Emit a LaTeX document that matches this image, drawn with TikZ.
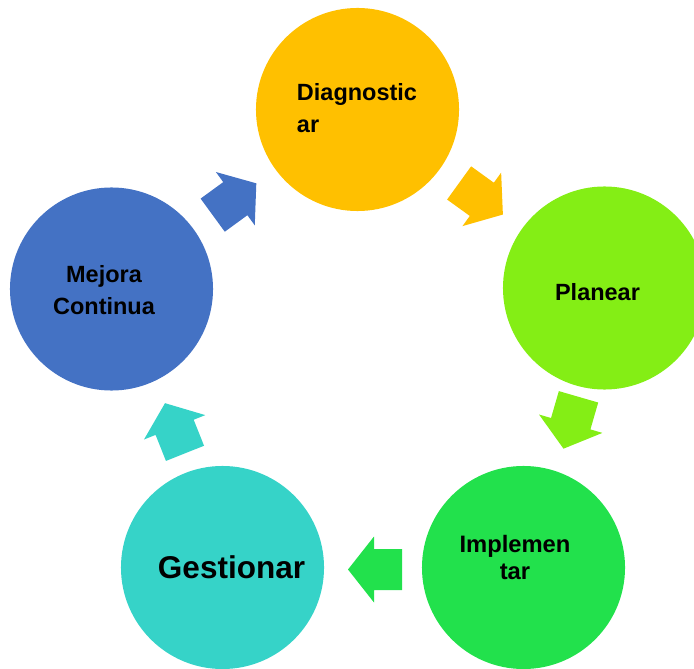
\documentclass[tikz,border=0pt]{standalone}
\usepackage{fontspec}
\setmainfont{Liberation Sans}
\usetikzlibrary{calc}

\definecolor{diagcol}{RGB}{255,192,0}
\definecolor{plancol}{RGB}{132,238,21}
\definecolor{implcol}{RGB}{34,225,76}
\definecolor{gestcol}{RGB}{54,211,200}
\definecolor{mejcol}{RGB}{68,114,196}

\begin{document}
\begin{tikzpicture}[
    x=0.025cm, y=-0.025cm,
    stage/.style={circle, draw=none, inner sep=0pt, minimum size=5.075cm},
    stagetext/.style={inner sep=0pt, text=black, font=\bfseries\fontsize{16.7}{22.8}\selectfont},
    cyclearrow/.pic={\fill (-27,-20.5) -- (1,-20.5) -- (1,-33) -- (27,0) -- (1,33) -- (1,20.5) -- (-27,20.5) -- cycle;}
]

    \useasboundingbox (0,0) rectangle (694,668);
    \clip (0,0) rectangle (694,668);

    % Stages
    \node[stage, fill=diagcol] (diag) at (357.5,109.5) {};
    \node[stage, fill=plancol] (plan) at (604.5,288) {};
    \node[stage, fill=implcol] (impl) at (523.5,567.5) {};
    \node[stage, fill=gestcol] (gest) at (222.5,567.5) {};
    \node[stage, fill=mejcol] (mej) at (111.5,289) {};

    % Texts
    \node[stagetext, align=left] (diagtext) at (357,108.5) {Diagnostic\\ar};
    \node[stagetext] (plantext) at (597.5,292) {Planear};
    \node[stagetext, align=center, font=\bfseries\fontsize{16.9}{18.5}\selectfont] (impltext) at (515,557.5) {Implemen\\tar};
    \node[stagetext, font=\bfseries\fontsize{22.4}{27}\selectfont] (gesttext) at (231.5,567) {Gestionar};
    \node[stagetext, align=center] (mejtext) at (104,290) {Mejora\\Continua};

    % Arrows
    \foreach \from/\to/\col/\dx/\dy in {diag/plan/diagcol/0/0, plan/impl/plancol/7/-5, impl/gest/implcol/2/2, gest/mej/gestcol/8/0, mej/diag/mejcol/0/0} {
        \path let \p1=($(\to)-(\from)$), \n1={atan2(\y1,\x1)} in
            ($(\from)!0.5!(\to)+(\dx,\dy)$) pic[rotate=\n1, color=\col] {cyclearrow};
    }

\end{tikzpicture}
\end{document}
